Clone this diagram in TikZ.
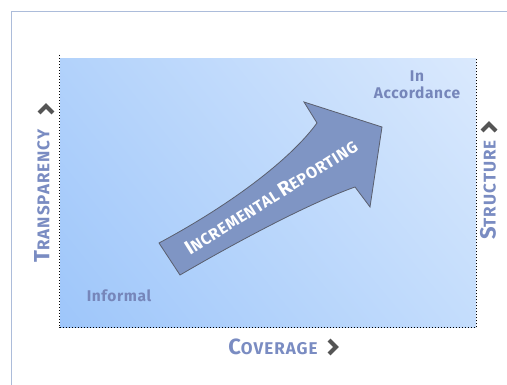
\documentclass[tikz,border=0pt]{standalone}
\usepackage{fontspec}
\setmainfont{Fira Sans}
\usetikzlibrary{shadings}
\definecolor{labelblue}{RGB}{122,140,194}
\definecolor{infoblue}{RGB}{118,134,186}
\definecolor{arrowfill}{RGB}{127,149,196}
\definecolor{arrowline}{RGB}{90,95,110}
\definecolor{framecol}{RGB}{172,188,218}
\definecolor{chevcol}{RGB}{85,85,85}
\definecolor{gll}{RGB}{158,198,250}
\definecolor{gul}{RGB}{178,210,251}
\definecolor{glr}{RGB}{196,221,252}
\definecolor{gur}{RGB}{218,233,253}
\newcommand\mysc[4]{{\fontsize{#1}{#1}\selectfont #3}{\fontsize{#2}{#2}\selectfont #4}}
\tikzset{
  axislabel/.style={inner sep=0pt, text=labelblue, font=\bfseries\addfontfeature{LetterSpace=6}},
  cornerlabel/.style={inner sep=0pt, text=infoblue, font=\bfseries\fontsize{15.5}{17}\selectfont\addfontfeature{LetterSpace=4}, align=center},
  chevron/.style={draw=chevcol, line width=4pt, line join=miter, line cap=butt},
  dotline/.style={draw=black, dotted, line width=1pt}
}
\begin{document}
\begin{tikzpicture}[x=1pt,y=-1pt]
\useasboundingbox (0,0) rectangle (507,385);
\fill[white] (0,0) rectangle (507,385);
% frame
\draw[framecol, line width=1.5pt] (11.5,385) -- (11.5,11.5) -- (507,11.5);
% gradient field
\shade[lower left=gll, upper left=gul, lower right=glr, upper right=gur]
  (60,59) rectangle (476,328);
\coordinate (tl) at (59.5,55);
\coordinate (bl) at (59.5,328);
\coordinate (br) at (476,328);
\coordinate (tr) at (476,59);
\draw[dotline] (tl) -- (bl) -- (br) -- (tr);
% arrow
\coordinate (T1) at (159,243);
\coordinate (U) at (317,123);
\coordinate (B1) at (304,102);
\coordinate (P) at (382,127);
\coordinate (B2) at (370,207);
\coordinate (L) at (355,187);
\coordinate (T2) at (180,275);
\draw[fill=arrowfill, draw=arrowline, line width=0.8pt, line join=miter]
  (T1) .. controls (230,205) and (290,160) .. (U) -- (B1) -- (P) -- (B2) -- (L)
  .. controls (310,203) and (240,240) .. (T2) -- cycle;
\node[inner sep=0pt, text=white, font=\bfseries\addfontfeature{LetterSpace=4}, rotate=32] (arrowtext) at (271,197)
  {\mysc{20}{16}{I}{NCREMENTAL} \mysc{20}{16}{R}{EPORTING}};
% labels
\node[cornerlabel] (informal) at (119,296) {Informal};
\node[cornerlabel] (accord) at (417,85) {In\\Accordance};
\node[axislabel, anchor=center] (coverage) at (273,347) {\mysc{22}{17}{C}{OVERAGE}};
\node[axislabel, rotate=90] (transp) at (42,196) {\mysc{22}{17}{T}{RANSPARENCY}};
\node[axislabel, rotate=90] (struct) at (488,190) {\mysc{22}{17}{S}{TRUCTURE}};
% chevrons
\draw[chevron] (329,340) -- (336,347) -- (329,354);
\draw[chevron] (39,113) -- (46,106) -- (53,113);
\draw[chevron] (482,131) -- (489,124) -- (496,131);
\end{tikzpicture}
\end{document}
